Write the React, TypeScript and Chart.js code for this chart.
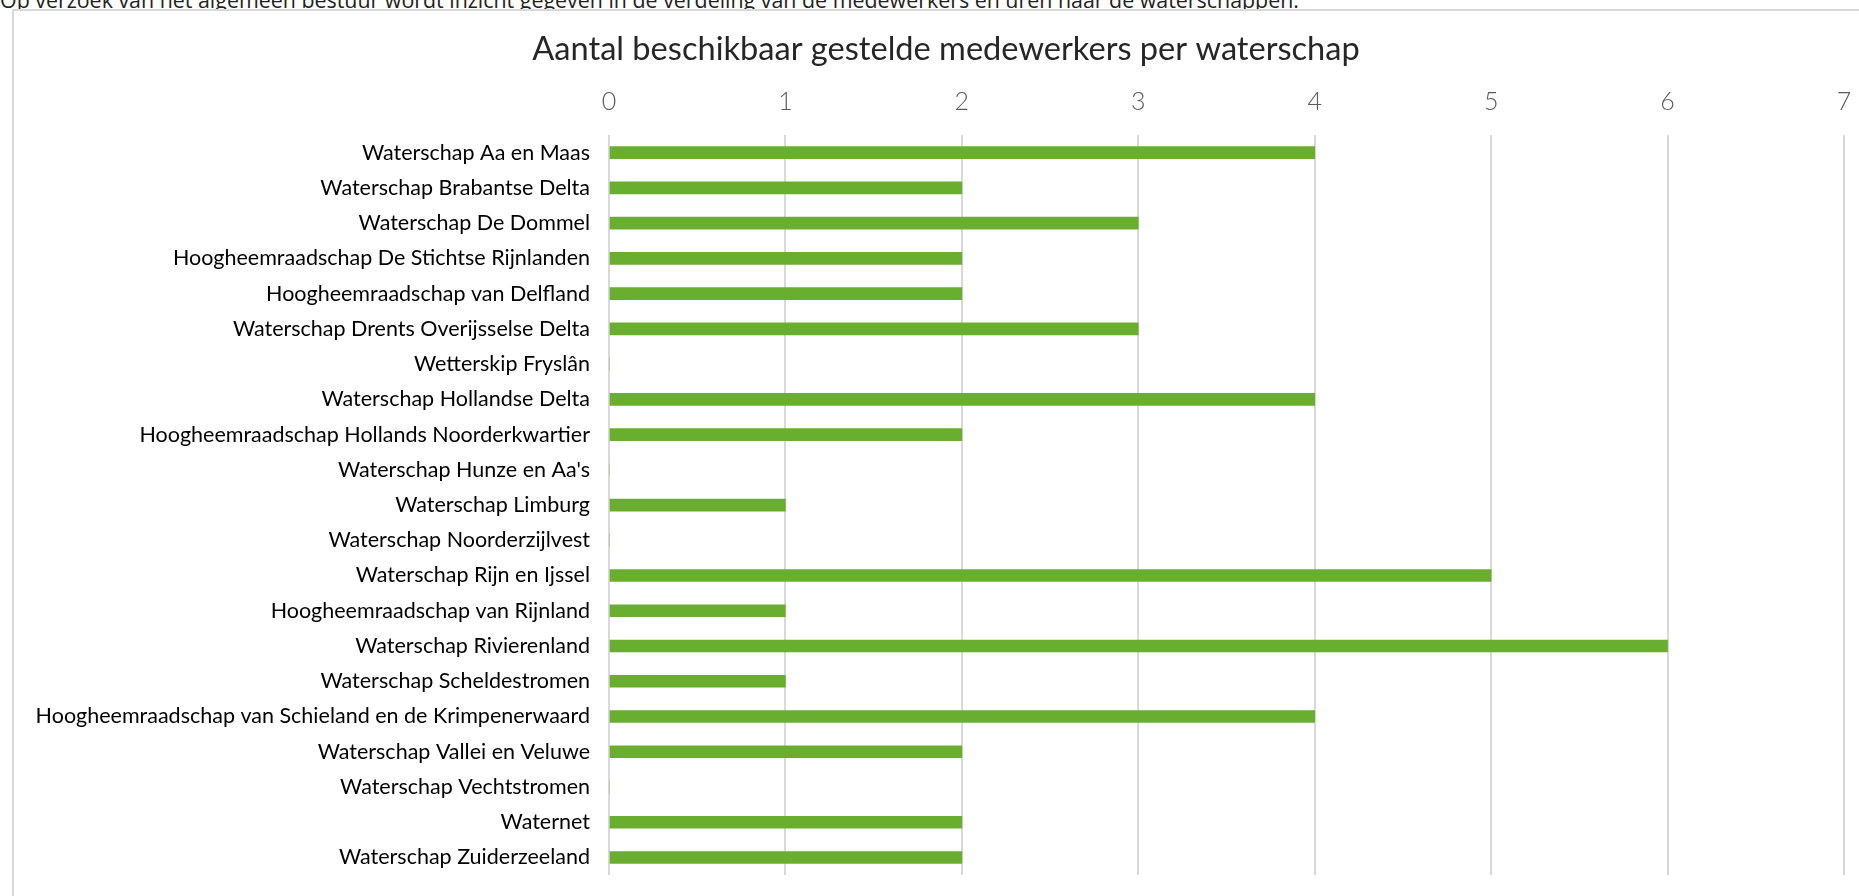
import React, { useEffect, useRef } from "react";
import { Chart, registerables } from "chart.js";

Chart.register(...registerables);

const introText =
  "Op verzoek van het algemeen bestuur wordt inzicht gegeven in de verdeling van de medewerkers en uren naar de waterschappen.";
const chartTitle = "Aantal beschikbaar gestelde medewerkers per waterschap";

const categories = [
  "Waterschap Aa en Maas",
  "Waterschap Brabantse Delta",
  "Waterschap De Dommel",
  "Hoogheemraadschap De Stichtse Rijnlanden",
  "Hoogheemraadschap van Delfland",
  "Waterschap Drents Overijsselse Delta",
  "Wetterskip Fryslân",
  "Waterschap Hollandse Delta",
  "Hoogheemraadschap Hollands Noorderkwartier",
  "Waterschap Hunze en Aa's",
  "Waterschap Limburg",
  "Waterschap Noorderzijlvest",
  "Waterschap Rijn en Ijssel",
  "Hoogheemraadschap van Rijnland",
  "Waterschap Rivierenland",
  "Waterschap Scheldestromen",
  "Hoogheemraadschap van Schieland en de Krimpenerwaard",
  "Waterschap Vallei en Veluwe",
  "Waterschap Vechtstromen",
  "Waternet",
  "Waterschap Zuiderzeeland",
];

const medewerkers = [4, 2, 3, 2, 2, 3, 0, 4, 2, 0, 1, 0, 5, 1, 6, 1, 4, 2, 0, 2, 2];

const xTicks = [0, 1, 2, 3, 4, 5, 6, 7];

const CANVAS_W = 1864;
const CANVAS_H = 907;

// Center the title across the full canvas width (like the Excel chart box)
const centerTitlePlugin = {
  id: "centerTitle",
  afterLayout(chart: any) {
    const tb = chart.titleBlock;
    if (tb) {
      tb.left = 0;
      tb.right = chart.width;
      tb.width = chart.width;
    }
  },
};

export default function App() {
  const canvasRef = useRef<HTMLCanvasElement | null>(null);

  useEffect(() => {
    if (!canvasRef.current) return;
    const chart = new Chart(canvasRef.current, {
      type: "bar",
      data: {
        labels: categories,
        datasets: [
          {
            label: "Medewerkers",
            data: medewerkers,
            backgroundColor: "#6aae30",
            borderWidth: 0,
            barThickness: 12,
          },
        ],
      },
      options: {
        indexAxis: "y",
        animation: false,
        responsive: false,
        maintainAspectRatio: false,
        devicePixelRatio: 1,
        layout: { padding: { left: 0, right: 34, top: 0, bottom: 0 } },
        plugins: {
          legend: { display: false },
          tooltip: { enabled: false },
          title: {
            display: true,
            text: chartTitle,
            color: "#262626",
            font: { family: "Lato", size: 32.6, weight: "normal" },
            padding: { top: 30.4, bottom: 0 },
          },
        },
        scales: {
          x: {
            position: "top",
            min: 0,
            max: 7,
            afterBuildTicks: (scale: any) => {
              scale.ticks = xTicks.map((v) => ({ value: v }));
            },
            afterFit: (scale: any) => {
              scale.height = 135 - 69.5;
            },
            ticks: {
              color: "#595959",
              font: { family: "Lato", size: 25, weight: 300 },
              padding: 18,
              maxRotation: 0,
            },
            grid: {
              color: "#d9d9d9",
              lineWidth: 2,
              drawTicks: false,
            },
            border: { display: false },
          },
          y: {
            afterFit: (scale: any) => {
              scale.width = 595;
            },
            ticks: {
              color: "#000000",
              font: { family: "Lato", size: 21.5 },
              padding: 19,
              autoSkip: false,
            },
            grid: { display: false, drawTicks: false },
            border: { display: false },
          },
        },
      },
      plugins: [centerTitlePlugin],
    });
    return () => chart.destroy();
  }, []);

  return (
    <div
      style={{
        position: "relative",
        width: 1859,
        height: 896,
        overflow: "hidden",
        background: "#ffffff",
      }}
    >
      <style>{`body{margin:0;overflow:hidden}`}</style>
      <div
        style={{
          position: "absolute",
          left: 0,
          top: -15,
          fontFamily: "'Open Sans'",
          fontSize: 21.4,
          lineHeight: "30px",
          color: "#222222",
          whiteSpace: "nowrap",
        }}
      >
        {introText}
      </div>
      <div
        style={{
          position: "absolute",
          left: 12,
          top: 9,
          width: 1900,
          height: 1000,
          borderLeft: "2px solid #d9d9d9",
          borderTop: "2px solid #d9d9d9",
          background: "#ffffff",
        }}
      />
      <canvas
        ref={canvasRef}
        width={CANVAS_W}
        height={CANVAS_H}
        style={{ position: "absolute", left: 14, top: 0 }}
      />
    </div>
  );
}
